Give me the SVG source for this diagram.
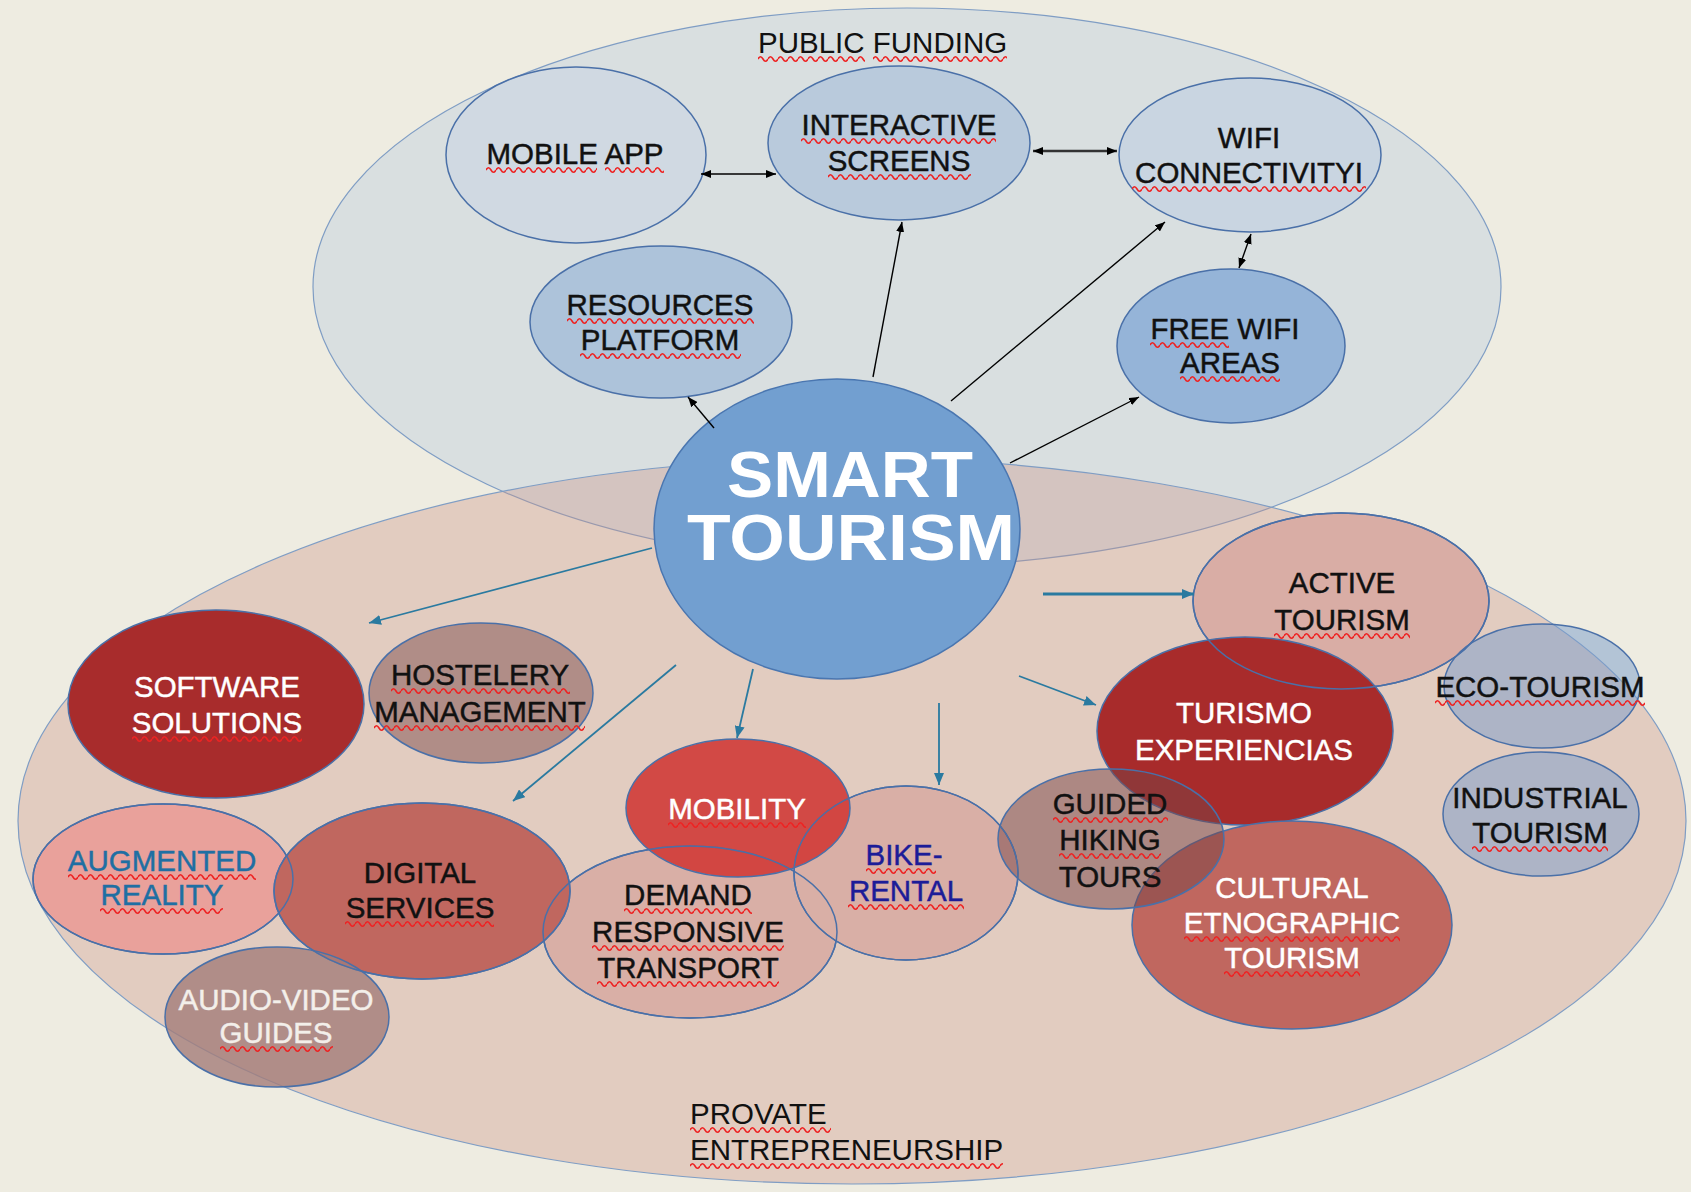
<svg xmlns="http://www.w3.org/2000/svg" width="1691" height="1192" viewBox="0 0 1691 1192">
<defs>
<style>
.t{font-family:"Liberation Sans",Arial,sans-serif;font-size:29.5px;text-anchor:middle;fill:#111;stroke:#111;stroke-width:0.45}
.ts{font-family:"Liberation Sans",Arial,sans-serif;font-size:29.5px;fill:#111}
.w{fill:#fff;stroke:#fff}
.nb{fill:#1c1c98;stroke:#1c1c98}
.ar{fill:#1f6fa3;stroke:#1f6fa3}
.lt{fill:#f3efea;stroke:#f3efea}
.big{font-family:"Liberation Sans",Arial,sans-serif;font-size:64px;font-weight:bold;text-anchor:middle;fill:#fff}
.n{stroke:#4a70a8;stroke-width:1.5}
.edge{fill:none;stroke:#4a70a8;stroke-width:1.5}
.sq{fill:url(#sq)}
.blk{stroke:#000;stroke-width:1.4;fill:none}
.teal{stroke:#2a7aa0;stroke-width:1.8;fill:none}
</style>
<pattern id="sq" width="10" height="8" patternUnits="userSpaceOnUse">
<path d="M0,4 Q2.5,-0.5 5,4 T10,4" fill="none" stroke="#ee2222" stroke-width="1.6"/>
</pattern>
<marker id="ab" viewBox="0 0 10 8" refX="10" refY="4" markerWidth="10" markerHeight="8" markerUnits="userSpaceOnUse" orient="auto-start-reverse">
<path d="M0,0 L10,4 L0,8 z" fill="#000"/>
</marker>
<marker id="at" viewBox="0 0 12 10" refX="12" refY="5" markerWidth="12" markerHeight="10" markerUnits="userSpaceOnUse" orient="auto">
<path d="M0,0 L12,5 L0,10 z" fill="#2a7aa0"/>
</marker>
</defs>

<rect x="0" y="0" width="1691" height="1192" fill="#eeece1"/>

<g id="public-funding">
<ellipse cx="907" cy="287" rx="594" ry="279" fill="#d9dfe0" stroke="#7f9dc4" stroke-width="1.2"/>
<text class="ts" x="758" y="53">PUBLIC FUNDING</text>
<rect class="sq" width="107" height="8" transform="translate(758,55)"/>
<rect class="sq" width="134" height="8" transform="translate(873,55)"/>
</g>

<g id="private-entrepreneurship">
<ellipse cx="852" cy="821" rx="834" ry="363" fill="#cc9183" fill-opacity="0.35" stroke="#7f9dc4" stroke-width="1.2"/>
<text class="ts" x="690" y="1124">PROVATE</text>
<text class="ts" x="690" y="1160">ENTREPRENEURSHIP</text>
<rect class="sq" width="141" height="8" transform="translate(690,1126)"/>
<rect class="sq" width="313" height="8" transform="translate(690,1162)"/>
</g>

<g id="mobile-app">
<ellipse class="n" cx="576" cy="155" rx="130" ry="88" fill="#cad5e2" fill-opacity="0.6"/>
<text class="t" x="575" y="164">MOBILE APP</text>
<rect class="sq" width="111" height="8" transform="translate(486,166)"/>
<rect class="sq" width="59" height="8" transform="translate(605,166)"/>
</g>

<g id="interactive-screens">
<ellipse class="n" cx="899" cy="143" rx="131" ry="77" fill="#b9cadc"/>
<text class="t" x="899" y="135">INTERACTIVE</text>
<text class="t" x="899" y="171">SCREENS</text>
<rect class="sq" width="195" height="8" transform="translate(801,137)"/>
<rect class="sq" width="143" height="8" transform="translate(828,173)"/>
</g>

<g id="wifi-connectivity">
<ellipse class="n" cx="1250" cy="155" rx="131" ry="77" fill="#c9d5e1"/>
<text class="t" x="1249" y="148">WIFI</text>
<text class="t" x="1249" y="183">CONNECTIVITYI</text>
<rect class="sq" width="234" height="8" transform="translate(1132,185)"/>
</g>

<g id="resources-platform">
<ellipse class="n" cx="661" cy="322" rx="131" ry="76" fill="#adc3da"/>
<text class="t" x="660" y="315">RESOURCES</text>
<text class="t" x="660" y="350">PLATFORM</text>
<rect class="sq" width="187" height="8" transform="translate(567,317)"/>
<rect class="sq" width="161" height="8" transform="translate(580,352)"/>
</g>

<g id="free-wifi-areas">
<ellipse class="n" cx="1231" cy="346" rx="114" ry="77" fill="#95b4d8"/>
<text class="t" x="1225" y="339">FREE WIFI</text>
<text class="t" x="1230" y="373">AREAS</text>
<rect class="sq" width="79" height="8" transform="translate(1150,341)"/>
<rect class="sq" width="100" height="8" transform="translate(1180,375)"/>
</g>

<g id="software-solutions">
<ellipse class="n" cx="216" cy="704" rx="148" ry="94" fill="#a82c2c"/>
<text class="t w" x="217" y="697">SOFTWARE</text>
<text class="t w" x="217" y="733">SOLUTIONS</text>
<rect class="sq" width="170" height="8" transform="translate(132,735)"/>
</g>

<g id="hostelery-management">
<ellipse class="n" cx="481" cy="693" rx="112" ry="70" fill="#b08d87"/>
<text class="t" x="480" y="685">HOSTELERY</text>
<text class="t" x="480" y="722">MANAGEMENT</text>
<rect class="sq" width="179" height="8" transform="translate(391,687)"/>
<rect class="sq" width="211" height="8" transform="translate(374,724)"/>
</g>

<g id="augmented-reality">
<ellipse class="n" cx="163" cy="879" rx="130" ry="75" fill="#e9a19b"/>
<text class="t ar" x="162" y="871">AUGMENTED</text>
<text class="t ar" x="162" y="905">REALITY</text>
<rect class="sq" width="188" height="8" transform="translate(68,873)"/>
<rect class="sq" width="123" height="8" transform="translate(100,907)"/>
</g>

<g id="demand-responsive-transport">
<ellipse class="n" cx="690" cy="932" rx="147" ry="86" fill="#d9afa6"/>
<text class="t" x="688" y="905">DEMAND</text>
<text class="t" x="688" y="942">RESPONSIVE</text>
<text class="t" x="688" y="978">TRANSPORT</text>
<rect class="sq" width="128" height="8" transform="translate(624,907)"/>
<rect class="sq" width="192" height="8" transform="translate(592,944)"/>
<rect class="sq" width="182" height="8" transform="translate(597,980)"/>
</g>

<g id="bike-rental">
<ellipse class="n" cx="906" cy="873" rx="112" ry="87" fill="#d9afa6"/>
<text class="t nb" x="904" y="865">BIKE-</text>
<text class="t nb" x="906" y="901">RENTAL</text>
<rect class="sq" width="70" height="8" transform="translate(866,867)"/>
<rect class="sq" width="116" height="8" transform="translate(848,903)"/>
</g>

<g id="digital-services">
<ellipse class="n" cx="422" cy="891" rx="148" ry="88" fill="#c0675f"/>
<text class="t" x="420" y="883">DIGITAL</text>
<text class="t" x="420" y="918">SERVICES</text>
<rect class="sq" width="149" height="8" transform="translate(345,920)"/>
</g>

<g id="mobility">
<ellipse class="n" cx="738" cy="808" rx="112" ry="69" fill="#d03b37" fill-opacity="0.9"/>
<text class="t w" x="737" y="819">MOBILITY</text>
<rect class="sq" width="138" height="8" transform="translate(668,821)"/>
</g>

<g id="audio-video-guides">
<ellipse class="n" cx="277" cy="1017" rx="112" ry="70" fill="#a47d79" fill-opacity="0.8"/>
<text class="t lt" x="276" y="1010">AUDIO-VIDEO</text>
<text class="t lt" x="276" y="1043">GUIDES</text>
<rect class="sq" width="113" height="8" transform="translate(220,1045)"/>
</g>

<g id="active-tourism">
<ellipse class="n" cx="1341" cy="601" rx="148" ry="88" fill="#d9ada5"/>
<text class="t" x="1342" y="593">ACTIVE</text>
<text class="t" x="1342" y="630">TOURISM</text>
<rect class="sq" width="136" height="8" transform="translate(1274,632)"/>
</g>

<g id="turismo-experiencias">
<ellipse class="n" cx="1245" cy="731" rx="148" ry="94" fill="#a82b2b"/>
<text class="t w" x="1244" y="723">TURISMO</text>
<text class="t w" x="1244" y="760">EXPERIENCIAS</text>
</g>

<g id="cultural-etnographic-tourism">
<ellipse class="n" cx="1292" cy="925" rx="160" ry="104" fill="#c0675f"/>
<text class="t w" x="1292" y="898">CULTURAL</text>
<text class="t w" x="1292" y="933">ETNOGRAPHIC</text>
<text class="t w" x="1292" y="968">TOURISM</text>
<rect class="sq" width="216" height="8" transform="translate(1184,935)"/>
<rect class="sq" width="136" height="8" transform="translate(1224,970)"/>
</g>

<g id="guided-hiking-tours">
<ellipse class="n" cx="1111" cy="839" rx="113" ry="70" fill="#784445" fill-opacity="0.5"/>
<text class="t" x="1110" y="814">GUIDED</text>
<text class="t" x="1110" y="850">HIKING</text>
<text class="t" x="1110" y="887">TOURS</text>
<rect class="sq" width="115" height="8" transform="translate(1053,816)"/>
<rect class="sq" width="102" height="8" transform="translate(1059,852)"/>
</g>

<g id="eco-tourism">
<ellipse class="n" cx="1542" cy="686" rx="98" ry="62" fill="#789ccc" fill-opacity="0.5"/>
<text class="t" x="1540" y="697">ECO-TOURISM</text>
<rect class="sq" width="210" height="8" transform="translate(1435,699)"/>
</g>

<g id="industrial-tourism">
<ellipse class="n" cx="1541" cy="814" rx="98" ry="62" fill="#789ccc" fill-opacity="0.5"/>
<text class="t" x="1540" y="808">INDUSTRIAL</text>
<text class="t" x="1540" y="843">TOURISM</text>
<rect class="sq" width="136" height="8" transform="translate(1472,845)"/>
</g>

<g id="overlap-edges">
<ellipse class="edge" cx="163" cy="879" rx="130" ry="75"/>
<ellipse class="edge" cx="690" cy="932" rx="147" ry="86"/>
<ellipse class="edge" cx="906" cy="873" rx="112" ry="87"/>
<ellipse class="edge" cx="422" cy="891" rx="148" ry="88"/>
<ellipse class="edge" cx="1341" cy="601" rx="148" ry="88"/>
</g>

<g id="smart-tourism">
<ellipse cx="837" cy="529" rx="183" ry="150" fill="#729fd0" stroke="#4a76b0" stroke-width="1.5"/>
<text class="big" x="850" y="497" textLength="246" lengthAdjust="spacingAndGlyphs">SMART</text>
<text class="big" x="851" y="560" textLength="328" lengthAdjust="spacingAndGlyphs">TOURISM</text>
</g>

<g id="connectors">
<line class="blk" x1="701" y1="174" x2="776" y2="174" marker-start="url(#ab)" marker-end="url(#ab)"/>
<line class="blk" x1="1033" y1="151" x2="1117" y2="151" style="stroke:#333;stroke-width:2.4" marker-start="url(#ab)" marker-end="url(#ab)"/>
<line class="blk" x1="1251" y1="234" x2="1239" y2="268" marker-start="url(#ab)" marker-end="url(#ab)"/>
<line class="blk" x1="714" y1="428" x2="688" y2="397" marker-end="url(#ab)"/>
<line class="blk" x1="873" y1="377" x2="902" y2="222" marker-end="url(#ab)"/>
<line class="blk" x1="951" y1="401" x2="1165" y2="222" marker-end="url(#ab)"/>
<line class="blk" x1="1010" y1="463" x2="1139" y2="397" marker-end="url(#ab)"/>
<line class="teal" x1="652" y1="548" x2="369" y2="623" marker-end="url(#at)"/>
<line class="teal" x1="676" y1="665" x2="513" y2="801" marker-end="url(#at)"/>
<line class="teal" x1="753" y1="669" x2="737" y2="738" marker-end="url(#at)"/>
<line class="teal" x1="939" y1="703" x2="939" y2="785" marker-end="url(#at)"/>
<line class="teal" x1="1019" y1="676" x2="1096" y2="705" marker-end="url(#at)"/>
<line class="teal" x1="1043" y1="594" x2="1194" y2="594" style="stroke-width:3" marker-end="url(#at)"/>
</g>
</svg>
